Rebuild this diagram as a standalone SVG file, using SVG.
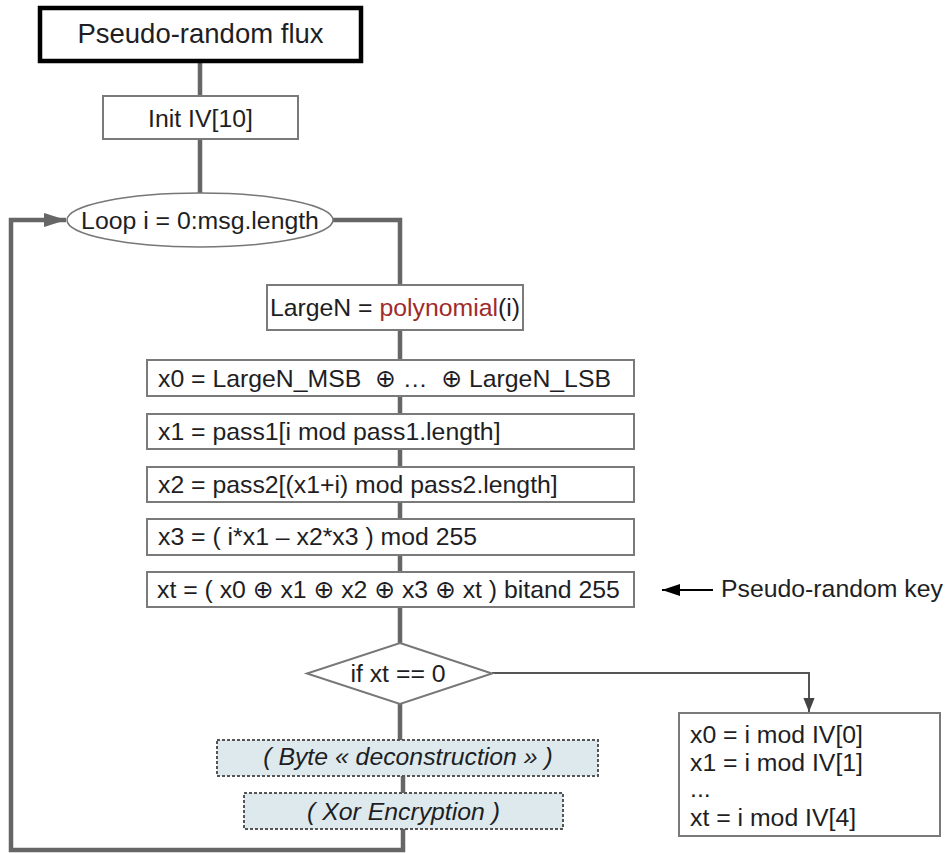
<svg xmlns="http://www.w3.org/2000/svg" width="946" height="853" viewBox="0 0 946 853">
<defs>
<style>
text{font-family:"Liberation Sans",Arial,"DejaVu Sans",sans-serif;font-size:24.8px;fill:#1e1e24;white-space:pre}
.box{fill:#fff;stroke:#7a7a7a;stroke-width:2}
.dash{fill:#dde9ec;stroke:#555;stroke-width:2;stroke-dasharray:3 2}
.main{fill:none;stroke:#666;stroke-width:4.5}
.thin{fill:none;stroke:#555;stroke-width:2}
.it{font-style:italic}
</style>
<marker id="ag" viewBox="0 0 10 10" refX="10" refY="5" markerWidth="5" markerHeight="3.2" markerUnits="strokeWidth" orient="auto" preserveAspectRatio="none">
<path d="M0,0L10,5L0,10z" fill="#666"/>
</marker>
<marker id="as" viewBox="0 0 10 10" refX="10" refY="5" markerWidth="7" markerHeight="7" markerUnits="strokeWidth" orient="auto">
<path d="M0,1L10,5L0,9z" fill="#444"/>
</marker>
<marker id="ab" viewBox="0 0 10 10" refX="10" refY="5" markerWidth="9" markerHeight="6" markerUnits="strokeWidth" orient="auto" preserveAspectRatio="none">
<path d="M0,0L10,5L0,10z" fill="#000"/>
</marker>
</defs>

<g id="connectors">
<path class="main" d="M200,61V96M200,139V193"/>
<path class="main" d="M333,220H400V285"/>
<path class="main" d="M400,330V360M400,396V414M400,449V467M400,502V519M400,555V572M400,607V643M400,704V740"/>
<path class="main" d="M403,776V793"/>
<path class="main" d="M403,829V850H11V220H66" marker-end="url(#ag)"/>
<path class="thin" d="M492,673H809V712" marker-end="url(#as)"/>
<path d="M713,590H662" fill="none" stroke="#000" stroke-width="2" marker-end="url(#ab)"/>
</g>

<g id="title">
<rect x="40" y="8" width="321" height="53" fill="#fff" stroke="#000" stroke-width="4.5"/>
<text x="200.5" y="43" text-anchor="middle" style="font-size:27.5px">Pseudo-random flux</text>
</g>

<g id="init">
<rect class="box" x="103" y="96" width="195" height="43"/>
<text x="200.5" y="127" text-anchor="middle">Init IV[10]</text>
</g>

<g id="loop">
<ellipse cx="200" cy="220" rx="133" ry="27" fill="#fff" stroke="#777" stroke-width="1.5"/>
<text x="200" y="229" text-anchor="middle">Loop i = 0:msg.length</text>
</g>

<g id="largen">
<rect class="box" x="267" y="285" width="256" height="45"/>
<text x="395" y="316" text-anchor="middle">LargeN = <tspan fill="#9e2b2b">polynomial</tspan>(i)</text>
</g>

<g id="x0">
<rect class="box" x="147" y="360" width="487" height="36"/>
<text x="158" y="387">x0 = LargeN_MSB  ⊕ …  ⊕ LargeN_LSB</text>
</g>

<g id="x1">
<rect class="box" x="147" y="414" width="487" height="35"/>
<text x="158" y="440">x1 = pass1[i mod pass1.length]</text>
</g>

<g id="x2">
<rect class="box" x="147" y="467" width="487" height="35"/>
<text x="158" y="493">x2 = pass2[(x1+i) mod pass2.length]</text>
</g>

<g id="x3">
<rect class="box" x="147" y="519" width="487" height="36"/>
<text x="158" y="545">x3 = ( i*x1 – x2*x3 ) mod 255</text>
</g>

<g id="xt">
<rect class="box" x="147" y="572" width="487" height="35"/>
<text x="157" y="598">xt = ( x0 ⊕ x1 ⊕ x2 ⊕ x3 ⊕ xt ) bitand 255</text>
</g>

<g id="key-label">
<text x="721" y="597">Pseudo-random key</text>
</g>

<g id="condition">
<polygon points="400,643 492,673.5 400,704 307,673.5" fill="#fff" stroke="#777" stroke-width="2"/>
<text x="398" y="682" text-anchor="middle">if xt == 0</text>
</g>

<g id="byte">
<rect class="dash" x="217" y="740" width="381" height="36"/>
<text class="it" x="408" y="765" text-anchor="middle">( Byte « deconstruction » )</text>
</g>

<g id="xor">
<rect class="dash" x="244" y="793" width="319" height="36"/>
<text class="it" x="403.5" y="820" text-anchor="middle">( Xor Encryption )</text>
</g>

<g id="reset">
<rect class="box" x="679" y="713" width="261" height="123"/>
<text x="690" y="743">x0 = i mod IV[0]</text>
<text x="690" y="771">x1 = i mod IV[1]</text>
<text x="690" y="797">...</text>
<text x="690" y="826">xt = i mod IV[4]</text>
</g>
</svg>
